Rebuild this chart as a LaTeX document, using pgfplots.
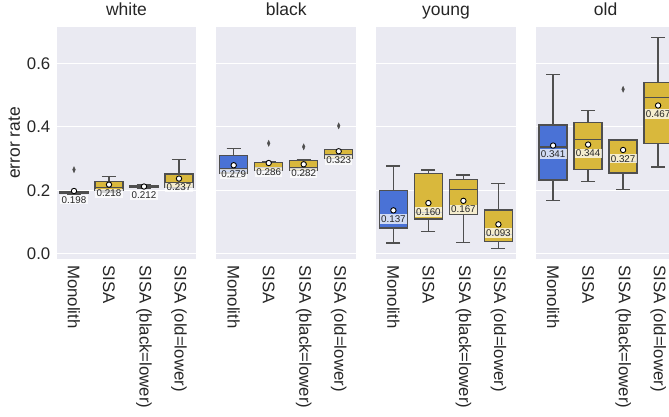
\documentclass[border=0pt]{standalone}
\usepackage{pgfplots}
\pgfplotsset{compat=1.18}
\usepgfplotslibrary{statistics}
\usepackage{fontspec}
\setmainfont{Liberation Sans}

\definecolor{panelbg}{HTML}{EAEAF2}
\definecolor{edgec}{HTML}{4F4F4F}
\definecolor{monoc}{HTML}{4A72D6}
\definecolor{sisac}{HTML}{D9B83C}
\definecolor{txt}{HTML}{262626}

% one box from prepared statistics:
% position, fill, lower whisker, lower quartile, median, upper quartile, upper whisker
\newcommand{\bx}[7]{%
  \addplot[boxdraw, fill=#2, boxplot prepared={draw position=#1,
    lower whisker=#3, lower quartile=#4, median=#5,
    upper quartile=#6, upper whisker=#7}] coordinates {};}

\pgfplotsset{
  boxdraw/.style={draw=edgec, line width=1.3pt, solid, mark=none,
    boxplot/draw direction=y,
    boxplot/box extend=0.8, boxplot/whisker extend=0.4},
  outl/.style={only marks, mark=diamond*, mark size=3pt,
    mark options={fill=edgec, draw=edgec, line width=0.4pt, xscale=0.6}},
  means/.style={only marks, mark=*, mark size=2.7pt,
    mark options={fill=white, draw=black, line width=0.9pt},
    point meta=y, nodes near coords,
    every node near coord/.append style={anchor=north, yshift=-3.5pt,
      font=\fontsize{9.8}{11}\selectfont, text=txt,
      fill=white, fill opacity=0.75, text opacity=1, inner sep=1.3pt,
      /pgf/number format/fixed, /pgf/number format/fixed zerofill,
      /pgf/number format/precision=3,
      /pgf/number format/assume math mode=true}},
  panel/.style={
    width=140pt, height=232pt, scale only axis,
    anchor=north west,
    boxplot/draw direction=y,
    xmin=-0.5, xmax=3.5, ymin=-0.016, ymax=0.714,
    axis background/.style={fill=panelbg},
    axis line style={draw=none},
    major tick length=0pt,
    ytick={0,0.2,0.4,0.6},
    ymajorgrids, grid style={white, line width=1pt},
    xtick={0,1,2,3},
    xticklabels={Monolith, SISA, SISA (black=lower), SISA (old=lower)},
    xticklabel style={rotate=-90, anchor=west, inner sep=0pt,
      font=\fontsize{16.8}{19}\selectfont, text=txt},
    xticklabel shift=6pt,
    yticklabel style={anchor=east, inner sep=0pt,
      font=\fontsize{16.8}{19}\selectfont, text=txt,
      /pgf/number format/fixed, /pgf/number format/fixed zerofill,
      /pgf/number format/precision=1,
      /pgf/number format/assume math mode=true},
    yticklabel shift=6pt,
    title style={font=\fontsize{17.5}{20}\selectfont, text=txt,
      at={(0.5,1)}, anchor=base, yshift=5pt},
    every axis y label/.style={at={(axis description cs:-0.302,0.5)},
      rotate=90, anchor=center,
      font=\fontsize{17.5}{20}\selectfont, text=txt},
  },
}

\begin{document}
\begin{tikzpicture}
\useasboundingbox (0,0) rectangle (669pt,-417pt);

% white
\begin{axis}[panel, at={(56.5pt,-27pt)}, title={white}, ylabel={error rate}]
  \bx{0}{monoc}{0.186}{0.189}{0.192}{0.195}{0.197}
  \bx{1}{sisac}{0.195}{0.200}{0.209}{0.227}{0.243}
  \bx{2}{sisac}{0.205}{0.209}{0.213}{0.216}{0.219}
  \bx{3}{sisac}{0.205}{0.210}{0.225}{0.251}{0.298}
  \addplot[outl] coordinates {(0,0.265)};
  \addplot[means] coordinates {(0,0.198) (1,0.218) (2,0.212) (3,0.237)};
\end{axis}

% black
\begin{axis}[panel, at={(216.2pt,-27pt)}, title={black}, yticklabels={}]
  \bx{0}{monoc}{0.240}{0.255}{0.267}{0.310}{0.332}
  \bx{1}{sisac}{0.250}{0.262}{0.272}{0.287}{0.289}
  \bx{2}{sisac}{0.250}{0.262}{0.270}{0.295}{0.296}
  \bx{3}{sisac}{0.290}{0.300}{0.311}{0.328}{0.329}
  \addplot[outl] coordinates {(1,0.348) (2,0.337) (3,0.403)};
  \addplot[means] coordinates {(0,0.279) (1,0.286) (2,0.282) (3,0.323)};
\end{axis}

% young
\begin{axis}[panel, at={(375.9pt,-27pt)}, title={young}, yticklabels={}]
  \bx{0}{monoc}{0.034}{0.079}{0.083}{0.199}{0.277}
  \bx{1}{sisac}{0.070}{0.110}{0.130}{0.252}{0.264}
  \bx{2}{sisac}{0.036}{0.123}{0.203}{0.235}{0.248}
  \bx{3}{sisac}{0.018}{0.038}{0.060}{0.138}{0.222}
  \addplot[means] coordinates {(0,0.137) (1,0.160) (2,0.167) (3,0.093)};
\end{axis}

% old
\begin{axis}[panel, at={(535.6pt,-27pt)}, title={old}, yticklabels={}]
  \bx{0}{monoc}{0.168}{0.233}{0.336}{0.406}{0.564}
  \bx{1}{sisac}{0.227}{0.266}{0.361}{0.414}{0.451}
  \bx{2}{sisac}{0.202}{0.255}{0.290}{0.358}{0.359}
  \bx{3}{sisac}{0.273}{0.347}{0.492}{0.540}{0.682}
  \addplot[outl] coordinates {(2,0.518)};
  \addplot[means] coordinates {(0,0.341) (1,0.344) (2,0.327) (3,0.467)};
\end{axis}
\end{tikzpicture}
\end{document}
